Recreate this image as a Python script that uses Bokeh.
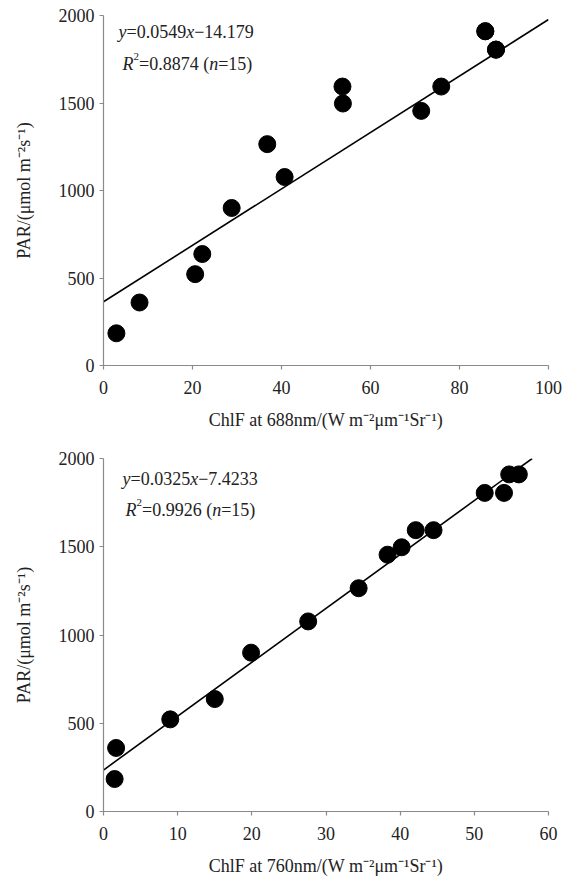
from bokeh.plotting import figure
from bokeh.layouts import column
from bokeh.models import Range1d, FixedTicker, ColumnDataSource
from bokeh.core.properties import value
from bokeh.embed import file_html
from bokeh.resources import INLINE

# ---------------- data ----------------
par = [184, 360, 522, 637, 900, 1077, 1265, 1455, 1497, 1594, 1594, 1805, 1805, 1910, 1910]
chlf688 = [2.9, 8.1, 20.6, 22.2, 28.8, 40.7, 36.8, 71.4, 53.8, 53.7, 75.9, 88.2, 88.2, 85.8, 85.8]
chlf760 = [1.5, 1.7, 9.0, 15.0, 19.9, 27.6, 34.4, 38.3, 40.2, 42.1, 44.5, 51.4, 54.0, 54.7, 56.0]

fit688_x = [0, 100]
fit688_y = [364, 1977]
fit760_x = [0, 57.8]
fit760_y = [235, 2000]

xticks688 = [0, 20, 40, 60, 80, 100]
xticks760 = [0, 10, 20, 30, 40, 50, 60]
yticks = [0, 500, 1000, 1500, 2000]

eq688 = [("y", "italic", False), ("=0.0549", "normal", False), ("x", "italic", False), ("\u221214.179", "normal", False)]
r2_688 = [("R", "italic", False), ("2", "normal", True), ("=0.8874 (", "normal", False), ("n", "italic", False), ("=15)", "normal", False)]
eq760 = [("y", "italic", False), ("=0.0325", "normal", False), ("x", "italic", False), ("\u22127.4233", "normal", False)]
r2_760 = [("R", "italic", False), ("2", "normal", True), ("=0.9926 (", "normal", False), ("n", "italic", False), ("=15)", "normal", False)]

ylabel = "PAR/(\u03bcmol m\u207b\u00b2s\u207b\u00b9)"
xlabel688 = "ChlF at 688nm/(W m\u207b\u00b2\u03bcm\u207b\u00b9Sr\u207b\u00b9)"
xlabel760 = "ChlF at 760nm/(W m\u207b\u00b2\u03bcm\u207b\u00b9Sr\u207b\u00b9)"

FONT = "Liberation Serif"
FS = 18
SUP = 11
TXT = "#222222"

W_REG = {'.': 250, '=': 564, '\u2212': 564, '(': 333, ')': 333, ' ': 250}
W_IT = {'y': 444, 'x': 444, 'n': 500, 'R': 611}


def run_width(s, style, size):
    w = 0
    for ch in s:
        if style == "italic" and ch in W_IT:
            w += W_IT[ch]
        elif ch.isdigit():
            w += 500
        else:
            w += W_REG.get(ch, 500)
    return w * size / 1000.0


def make_fig(xr, xt, xlabel, height, top, bottom, fh):
    p = figure(width=562, height=height, output_backend="svg", toolbar_location=None,
               x_range=Range1d(*xr), y_range=Range1d(0, 2000),
               min_border_left=103, min_border_right=14, min_border_top=top,
               min_border_bottom=bottom)
    p.outline_line_color = None
    p.xgrid.visible = False
    p.ygrid.visible = False
    p.background_fill_color = "white"
    p.border_fill_color = "white"
    p.xaxis.ticker = FixedTicker(ticks=xt)
    p.yaxis.ticker = FixedTicker(ticks=yticks)
    for ax in (p.xaxis, p.yaxis):
        ax.axis_line_color = "#8a8a8a"
        ax.axis_line_width = 1.2
        ax.major_tick_line_color = "#8a8a8a"
        ax.major_tick_line_width = 1.2
        ax.major_tick_out = 4
        ax.major_tick_in = 0
        ax.minor_tick_line_color = None
        ax.major_label_text_font = FONT
        ax.major_label_text_font_size = f"{FS}px"
        ax.major_label_text_color = TXT
        ax.axis_label_text_font = FONT
        ax.axis_label_text_font_size = f"{FS}px"
        ax.axis_label_text_font_style = "normal"
        ax.axis_label_text_color = TXT
    p.xaxis.axis_label = xlabel
    p.yaxis.axis_label = ylabel
    p.xaxis.major_label_standoff = 11
    p.xaxis.axis_label_standoff = 13
    p.yaxis.major_label_standoff = 5
    p.yaxis.axis_label_standoff = 22
    return p


def add_rich(p, lines, xr, top_px, fh):
    L, FW = 103, 445
    xs, ys, ts, st, sz = [], [], [], [], []
    for runs, px0, base in lines:
        px = px0
        for text, style, sup in runs:
            size = SUP if sup else FS
            by = base - 7 if sup else base
            xs.append(xr[0] + (px - L) / FW * (xr[1] - xr[0]))
            ys.append(2000 - (by - top_px) / fh * 2000)
            ts.append(text)
            st.append(style)
            sz.append(f"{size}px")
            px += run_width(text, style, size)
    src = ColumnDataSource(dict(x=xs, y=ys, text=ts, style=st, size=sz))
    p.text(x="x", y="y", text="text", source=src, text_font=value(FONT),
           text_font_style="style", text_font_size="size", text_color=TXT,
           text_baseline="alphabetic", text_align="left")


# top
p1 = make_fig((0, 100), xticks688, xlabel688, 442, 15, 77, 350)
p1.line(fit688_x, fit688_y, line_color="black", line_width=1.6)
p1.scatter(chlf688, par, size=17, fill_color="black", line_color="black")
add_rich(p1, [(eq688, 118, 31), (r2_688, 122, 63)], (0, 100), 15, 350)

# bottom
p2 = make_fig((0, 60), xticks760, xlabel760, 443, 16, 74, 353)
p2.line(fit760_x, fit760_y, line_color="black", line_width=1.6)
p2.scatter(chlf760, par, size=17, fill_color="black", line_color="black")
add_rich(p2, [(eq760, 122, 478), (r2_760, 125, 509)], (0, 60), 458, 353)

layout = column(p1, p2, spacing=0)
open("out.html", "w").write(file_html(layout, INLINE))
